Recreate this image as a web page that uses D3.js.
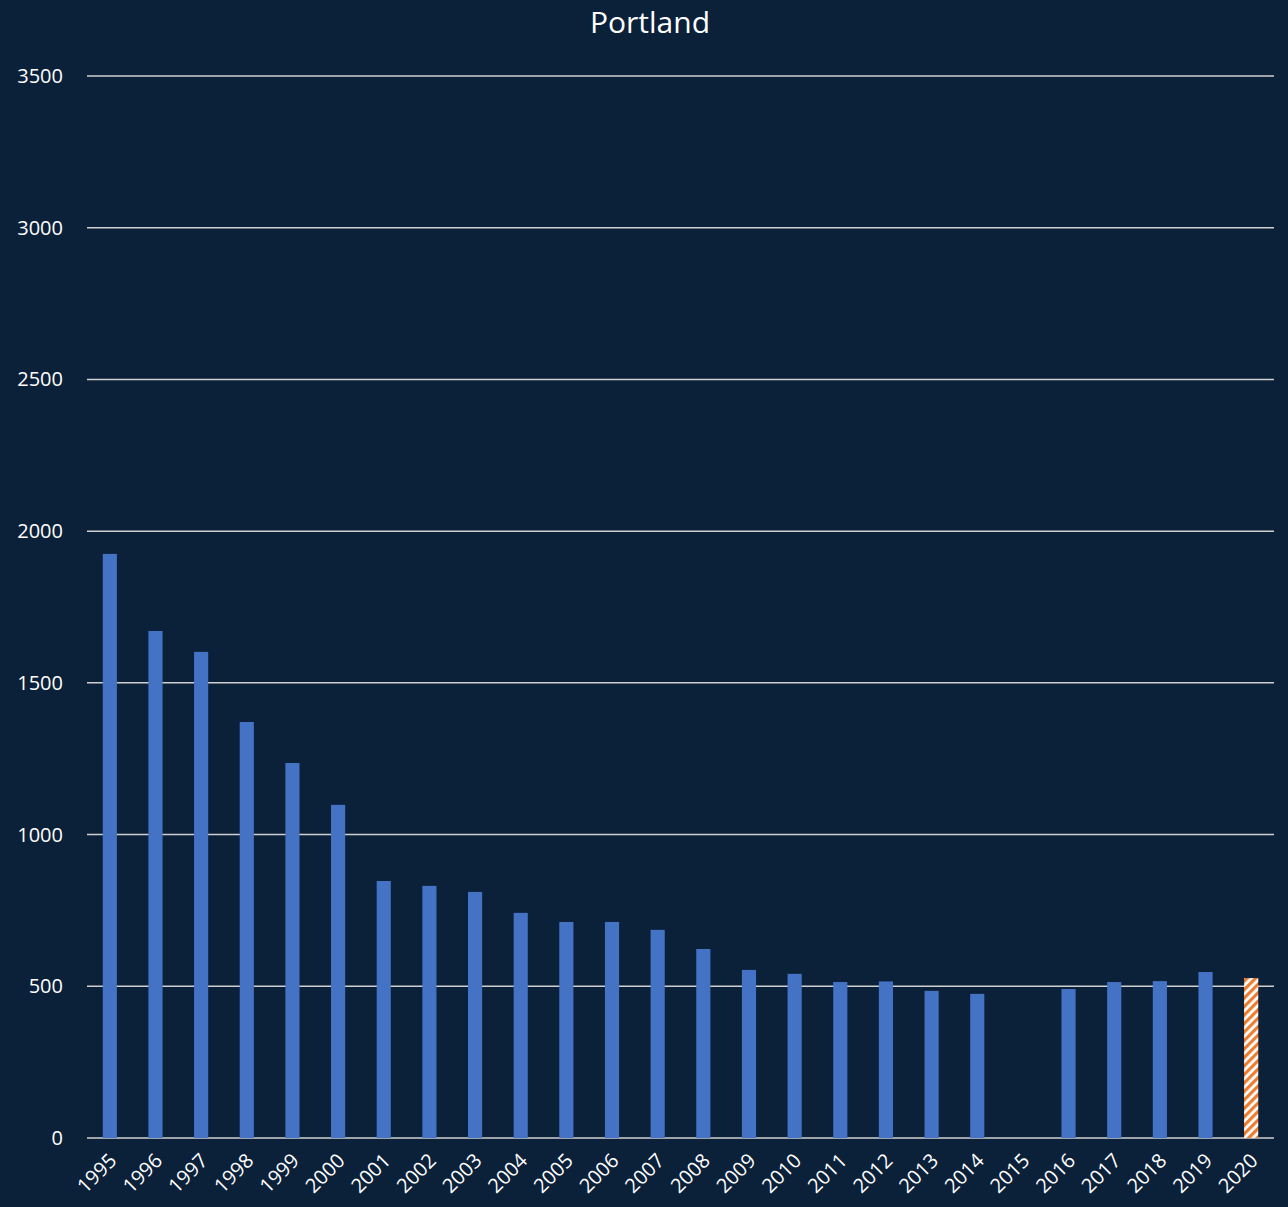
<!DOCTYPE html>
<html><head><meta charset="utf-8">
<script src="https://cdn.jsdelivr.net/npm/d3@7"></script>
<style>html,body{margin:0;padding:0;background:#0b2039;}</style>
</head><body>
<script>
const title = "Portland";
const years = ["1995","1996","1997","1998","1999","2000","2001","2002","2003","2004","2005","2006","2007","2008","2009","2010","2011","2012","2013","2014","2015","2016","2017","2018","2019","2020"];
const values = [1925,1671,1602,1371,1236,1098,847,831,811,742,712,712,686,623,554,541,514,516,485,475,null,491,514,517,547,527];
const projected = ["2020"];
const yTicks = [0,500,1000,1500,2000,2500,3000,3500];

const W = 1288, H = 1207;
const margin = {left: 87, right: 14, top: 76, bottom: 69};
const svg = d3.select("body").append("svg").attr("width", W).attr("height", H)
  .style("font-family", "'Open Sans', 'Noto Sans', sans-serif");
svg.append("rect").attr("width", W).attr("height", H).attr("fill", "#0b2039");

const defs = svg.append("defs");
const pat = defs.append("pattern").attr("id", "hatch").attr("patternUnits", "userSpaceOnUse")
  .attr("width", 6).attr("height", 6).attr("patternTransform", "rotate(45)");
pat.append("rect").attr("width", 6).attr("height", 6).attr("fill", "#ffffff");
pat.append("rect").attr("width", 3.2).attr("height", 6).attr("fill", "#ed7d31");

const x = d3.scaleBand().domain(years).range([margin.left, W - margin.right]).paddingInner(0.69).paddingOuter(0.345);
const y = d3.scaleLinear().domain([0, 3500]).range([H - margin.bottom, margin.top]);

// gridlines
svg.append("g").selectAll("line").data(yTicks).join("line")
  .attr("x1", margin.left).attr("x2", W - margin.right)
  .attr("y1", d => y(d)).attr("y2", d => y(d))
  .attr("stroke", "#d0d0d0").attr("stroke-width", 1.5);

// y labels
svg.append("g").selectAll("text").data(yTicks).join("text")
  .attr("x", 63).attr("y", d => y(d)).attr("dy", "0.35em")
  .attr("text-anchor", "end").attr("fill", "#ffffff").attr("font-size", 20)
  .text(d => d);

// bars
svg.append("g").selectAll("rect").data(years.map((yr, i) => ({yr, v: values[i]})).filter(d => d.v != null))
  .join("rect")
  .attr("x", d => x(d.yr)).attr("width", x.bandwidth())
  .attr("y", d => y(d.v)).attr("height", d => y(0) - y(d.v))
  .attr("fill", d => projected.includes(d.yr) ? "url(#hatch)" : "#4472c4");

// x labels
svg.append("g").selectAll("text").data(years).join("text")
  .attr("transform", d => `translate(${x(d) + x.bandwidth()/2 + 8},${y(0) + 24}) rotate(-45)`)
  .attr("text-anchor", "end").attr("fill", "#ffffff").attr("font-size", 20)
  .text(d => d);

// title
svg.append("text").attr("x", 650).attr("y", 33).attr("text-anchor", "middle")
  .attr("fill", "#ffffff").attr("font-size", 30).text(title);
</script>
</body></html>
